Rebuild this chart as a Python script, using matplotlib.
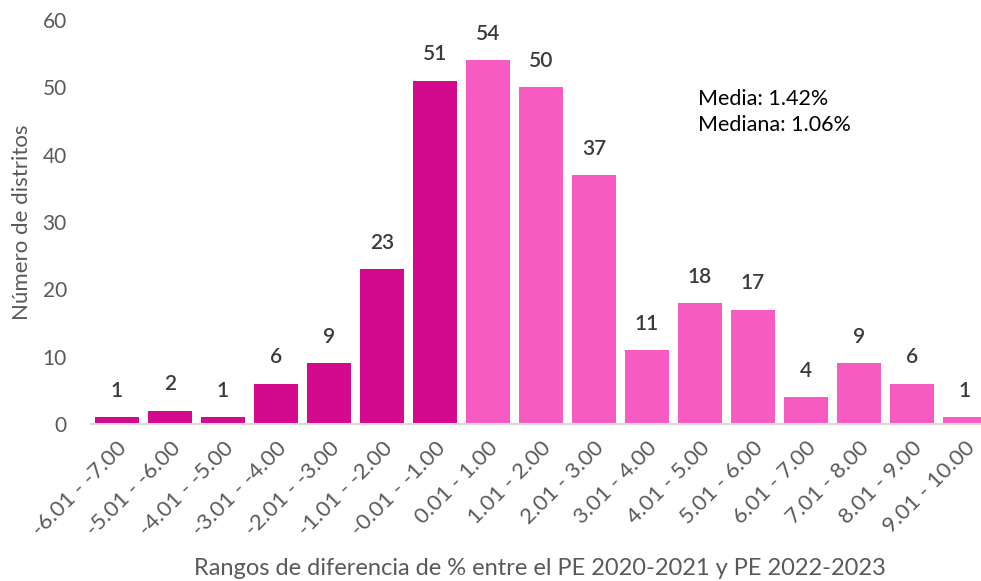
import numpy as np
import matplotlib.pyplot as plt

plt.rcParams['font.family'] = ['Lato', 'DejaVu Sans']

rangos = ['-6.01 - -7.00', '-5.01 - -6.00', '-4.01 - -5.00', '-3.01 - -4.00',
          '-2.01 - -3.00', '-1.01 - -2.00', '-0.01 - -1.00', '0.01 - 1.00',
          '1.01 - 2.00', '2.01 - 3.00', '3.01 - 4.00', '4.01 - 5.00',
          '5.01 - 6.00', '6.01 - 7.00', '7.01 - 8.00', '8.01 - 9.00',
          '9.01 - 10.00']
distritos = [1, 2, 1, 6, 9, 23, 51, 54, 50, 37, 11, 18, 17, 4, 9, 6, 1]
negativo = [True] * 7 + [False] * 10

color_neg = '#D40A8E'
color_pos = '#F75BC2'

fig = plt.figure(figsize=(9.81, 5.81), dpi=100)
ax = fig.add_axes([90.5 / 981, 157 / 581, 901 / 981, 404 / 581])

x = np.arange(len(rangos))
colores = [color_neg if n else color_pos for n in negativo]
bars = ax.bar(x, distritos, width=0.83, color=colores)

for xi, v in zip(x, distritos):
    ax.text(xi, v + 2.4, str(v), ha='center', va='bottom',
            fontsize=15, color='#3a3a3a', fontweight='semibold')

ax.set_xlim(-0.5, len(rangos) - 0.5)
ax.set_ylim(0, 60)
ax.set_yticks(range(0, 61, 10))
ax.set_xticks(x)
ax.set_xticklabels(rangos, rotation=45, ha='right', rotation_mode='anchor')

for s in ['top', 'right', 'left']:
    ax.spines[s].set_visible(False)
ax.spines['bottom'].set_color('#D9D9D9')
ax.spines['bottom'].set_linewidth(1.5)
ax.tick_params(axis='both', length=0, colors='#595959')
ax.tick_params(axis='x', pad=10, labelsize=16)
ax.tick_params(axis='y', pad=17, labelsize=15)

ax.set_ylabel('Número de distritos', fontsize=16, color='#595959', labelpad=8)
fig.text(0.55, 0.003, 'Rangos de diferencia de % entre el PE 2020-2021 y PE 2022-2023',
         ha='center', va='bottom', fontsize=17, color='#595959')

ax.text(0.674, 0.83, 'Media: 1.42%\nMediana: 1.06%', transform=ax.transAxes,
        fontsize=15.5, color='#000000', va='top', linespacing=1.4)

plt.savefig('out.png', dpi=100)
